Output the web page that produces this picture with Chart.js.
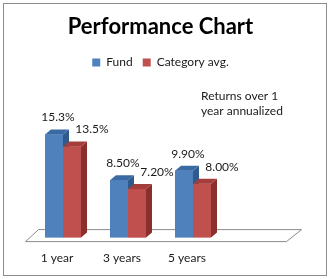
<!DOCTYPE html>
<html>
<head>
<meta charset="utf-8">
<script src="https://cdn.jsdelivr.net/npm/chart.js@4"></script>
<style>
  html, body { margin: 0; padding: 0; background: #fff; }
  #wrap { width: 330px; height: 279px; }
</style>
</head>
<body>
<div id="wrap"><canvas id="canvas"></canvas></div>
<script>
const categories = ['1 year', '3 years', '5 years', ''];
const fundValues = [15.3, 8.5, 9.9, null];
const categoryAvgValues = [13.5, 7.2, 8.0, null];
const noteLines = ['Returns over 1', 'year annualized'];

const FONT = 'Lato, "Open Sans", sans-serif';
const depthX = 6, depthY = 5;

const faces = [
    { front: '#4f81bd', side: '#2e5a8c', top: '#3a6aa3', dx: 4 },
    { front: '#c0504d', side: '#8a2f2c', top: '#a33e3b', dx: 20 },
];

function poly(ctx, pts, color) {
    ctx.beginPath();
    ctx.moveTo(pts[0][0], pts[0][1]);
    for (let i = 1; i < pts.length; i++) ctx.lineTo(pts[i][0], pts[i][1]);
    ctx.closePath();
    ctx.fillStyle = color;
    ctx.fill();
}

const excel3d = {
    id: 'excel3d',
    beforeDraw(chart) {
        const ctx = chart.ctx;
        const a = chart.chartArea;
        ctx.save();
        ctx.fillStyle = '#fff';
        ctx.fillRect(0, 0, chart.width, chart.height);
        ctx.strokeStyle = '#8c8c8c';
        ctx.lineWidth = 1;
        ctx.strokeRect(3.5, 3.5, chart.width - 7, chart.height - 7);
        // floor
        const fy = a.bottom + 4, by = a.bottom - 8;
        ctx.beginPath();
        ctx.moveTo(a.left - 5, fy);
        ctx.lineTo(a.right - 4, fy);
        ctx.lineTo(a.right + 11, by);
        ctx.lineTo(a.left + 8, by);
        ctx.closePath();
        ctx.fillStyle = '#fff';
        ctx.fill();
        ctx.strokeStyle = '#8c8c8c';
        ctx.stroke();
        ctx.restore();
    },
    afterDatasetsDraw(chart) {
        const ctx = chart.ctx;
        ctx.save();
        const metas = chart.data.datasets.map((d, i) => chart.getDatasetMeta(i));
        for (let j = 0; j < categories.length; j++) {
            metas.forEach((meta, i) => {
                const bar = meta.data[j];
                const v = chart.data.datasets[i].data[j];
                if (v == null) return;
                const l = bar.x - bar.width / 2, r = bar.x + bar.width / 2;
                const t = bar.y, b = bar.base;
                const f = faces[i];
                poly(ctx, [[l, t], [r, t], [r, b], [l, b]], f.front);
                poly(ctx, [[r, t], [r + depthX, t - depthY], [r + depthX, b - depthY], [r, b]], f.side);
                poly(ctx, [[l, t], [l + depthX, t - depthY], [r + depthX, t - depthY], [r, t]], f.top);
            });
        }
        // value labels
        ctx.font = '12px ' + FONT;
        ctx.fillStyle = '#1a1a1a';
        ctx.textAlign = 'center';
        ctx.textBaseline = 'middle';
        metas.forEach((meta, i) => {
            meta.data.forEach((bar, j) => {
                const v = chart.data.datasets[i].data[j];
                if (v == null) return;
                ctx.fillText(v.toPrecision(3) + '%', bar.x + faces[i].dx, bar.y - 17);
            });
        });
        // note
        ctx.textAlign = 'left';
        noteLines.forEach((line, k) => ctx.fillText(line, 201, 96 + k * 15));
        ctx.restore();
    }
};

const data = {
    labels: categories,
    datasets: [
        { label: 'Fund', data: fundValues, backgroundColor: '#4f81bd' },
        { label: 'Category avg.', data: categoryAvgValues, backgroundColor: '#c0504d' },
    ],
};

const config = {
    type: 'bar',
    data: data,
    plugins: [excel3d],
    options: {
        responsive: false,
        animation: false,
        devicePixelRatio: 1,
        layout: { padding: { left: 30.5, right: 39.5, top: 0, bottom: 1 } },
        datasets: { bar: { categoryPercentage: 0.554, barPercentage: 1 } },
        scales: {
            x: {
                grid: { display: false, drawTicks: false },
                border: { display: false },
                ticks: { padding: 13, labelOffset: -6, color: '#1a1a1a', font: { family: FONT, size: 12 } },
            },
            y: { display: false, min: 0, max: 23.6 },
        },
        plugins: {
            title: {
                display: true,
                text: 'Performance Chart',
                color: '#000',
                font: { family: FONT, size: 22, weight: 'bold' },
                padding: { top: 14, bottom: 6 },
            },
            legend: {
                labels: { boxWidth: 8, boxHeight: 8, color: '#1a1a1a', font: { family: FONT, size: 12 } },
            },
            tooltip: { enabled: false },
        },
    },
};

const canvas = document.getElementById('canvas');
canvas.width = 330;
canvas.height = 279;
const chart = new Chart(canvas, config);
</script>
</body>
</html>
